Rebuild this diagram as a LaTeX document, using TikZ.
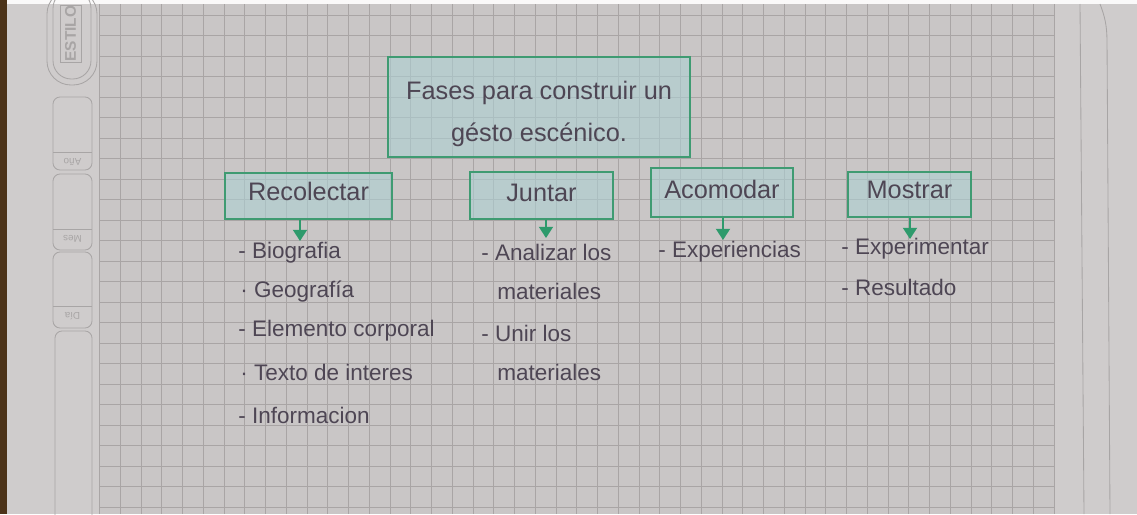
\documentclass[tikz,border=0pt]{standalone}
\usepackage{fontspec}
\setmainfont{Liberation Sans}
\usepackage{xcolor}
\usetikzlibrary{positioning}
\usetikzlibrary{arrows.meta}
\pgfdeclarelayer{paperlayer}
\pgfdeclarelayer{nodelayer}
\pgfdeclarelayer{edgelayer}
\pgfsetlayers{paperlayer,nodelayer,edgelayer,main}
\definecolor{paper}{HTML}{C9C6C6}
\definecolor{margin}{HTML}{CFCCCC}
\definecolor{gridgrey}{HTML}{A9A5A5}
\definecolor{tabgrey}{HTML}{A8A5A5}
\definecolor{pencil}{HTML}{4E4654}
\definecolor{markergreen}{HTML}{3F9B72}
\definecolor{highlight}{HTML}{ADD0D2}
\definecolor{arrowgreen}{HTML}{2E9A6C}
\tikzset{
    phase/.style = {draw=markergreen, line width=1.1pt, fill=highlight, fill opacity=0.6,
        text opacity=1, text=pencil, font=\fontsize{18}{20}\selectfont},
    item/.style = {anchor=west, inner sep=0pt, text=pencil, font=\fontsize{16}{18}\selectfont},
    pointer/.style = {draw=arrowgreen, line width=1.3pt, -{Triangle[width=10pt,length=8pt]}},
    gridline/.style = {draw=gridgrey, line width=0.5pt},
    tab/.style = {draw=tabgrey, line width=0.6pt}
}

\begin{document}
\begin{tikzpicture}[x=0.025cm, y=-0.025cm]
    \useasboundingbox (0,0) rectangle (1137,514);
    \begin{pgfonlayer}{paperlayer}
        % sheet
        \fill[paper] (0,0) rectangle (1137,514);
        \fill[margin] (7,0) rectangle (100,514);
        \fill[margin] (1054,0) rectangle (1137,514);
        \fill[black!60!brown] (0,0) rectangle (7,514);
        \fill[white!90!paper] (7,0) rectangle (1137,4);
        \foreach \gx in {0,...,46}
            \draw[gridline] ({99.5+20.75*\gx},4) -- ({99.5+20.75*\gx},514);
        \foreach \gy in {0,...,24}
            \draw[gridline] (100,{15+20.5*\gy}) -- (1054,{15+20.5*\gy});
        \draw[tab] (1080,4) -- (1084,514);
        \draw[tab] (1100,4) to[bend left=10] (1107,40) -- (1110,514);
        % margin tabs
        \draw[tab, rounded corners=17pt] (47,-10) rectangle (97,85);
        \draw[tab, rounded corners=13pt] (53,-10) rectangle (91,79);
        \draw[tab] (60,5) rectangle (81,62);
        \node[text=tabgrey, font=\bfseries\fontsize{11}{11}\selectfont, rotate=90] (estilo) at (70.5,33.5) {ESTILO};
        \draw[tab, rounded corners=5pt] (53,97) rectangle (92,170);
        \draw[tab] (53,152) -- (92,152);
        \node[text=tabgrey, font=\fontsize{7}{7}\selectfont, rotate=180] (ano) at (72.5,162) {Año};
        \draw[tab, rounded corners=5pt] (53,174) rectangle (92,250);
        \draw[tab] (53,229) -- (92,229);
        \node[text=tabgrey, font=\fontsize{7}{7}\selectfont, rotate=180] (mes) at (72.5,239) {Mes};
        \draw[tab, rounded corners=5pt] (53,252) rectangle (92,328);
        \draw[tab] (53,306) -- (92,306);
        \node[text=tabgrey, font=\fontsize{7}{7}\selectfont, rotate=180] (dia) at (72.5,316) {Día};
        \draw[tab, rounded corners=5pt] (55,331) rectangle (92,530);
    \end{pgfonlayer}
    \begin{pgfonlayer}{nodelayer}
        \node [style=phase, minimum width=7.55cm, minimum height=2.5cm, align=center,
            font=\fontsize{18}{30}\selectfont] (0) at (539,107) {\rule{0pt}{23pt}Fases para construir un\\gésto escénico.};
        \node [style=phase, minimum width=4.175cm, minimum height=1.15cm, text depth=7pt] (1) at (308.5,196) {Recolectar};
        \node [style=phase, minimum width=3.575cm, minimum height=1.175cm, text depth=4pt] (2) at (541.5,195.5) {Juntar};
        \node [style=phase, minimum width=3.55cm, minimum height=1.225cm, text depth=4pt] (3) at (722,192.5) {Acomodar};
        \node [style=phase, minimum width=3.075cm, minimum height=1.125cm, text depth=7pt] (4) at (909.5,194.5) {Mostrar};
        \coordinate (5) at (300,241);
        \coordinate (6) at (546,238);
        \coordinate (7) at (723,240);
        \coordinate (8) at (910,239);
        % Recolectar
        \node [style=item] (9) at (238,253) {- Biografia};
        \node [style=item] (10) at (240,292) {· Geografía};
        \node [style=item] (11) at (238,331) {- Elemento corporal};
        \node [style=item] (12) at (240,372) {· Texto de interes};
        \node [style=item] (13) at (238,415) {- Informacion};
        % Juntar
        \node [style=item] (14) at (481,252) {- Analizar los};
        \node [style=item] (15) at (497,291) {materiales};
        \node [style=item] (16) at (481,333) {- Unir los};
        \node [style=item] (17) at (497,372) {materiales};
        % Acomodar
        \node [style=item] (18) at (658,252) {- Experiencias};
        % Mostrar
        \node [style=item] (19) at (841,249) {- Experimentar};
        \node [style=item] (20) at (841,287) {- Resultado};
    \end{pgfonlayer}
    \begin{pgfonlayer}{edgelayer}
        \draw [style=pointer] (1.south -| 5) to (5);
        \draw [style=pointer] (2.south -| 6) to (6);
        \draw [style=pointer] (3.south -| 7) to (7);
        \draw [style=pointer] (4.south -| 8) to (8);
    \end{pgfonlayer}
\end{tikzpicture}
\end{document}
